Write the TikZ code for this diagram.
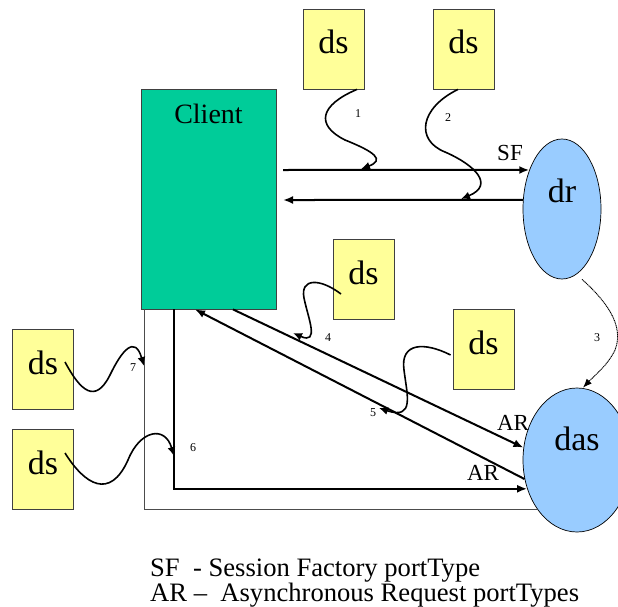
\documentclass[tikz,border=0pt]{standalone}
\usepackage{fontspec}
\setmainfont{Liberation Serif}
\usetikzlibrary{arrows.meta,shapes.geometric}
\definecolor{dsyellow}{HTML}{FFFF99}
\definecolor{clientgreen}{HTML}{00CC99}
\definecolor{portblue}{HTML}{99CCFF}

\begin{document}
\begin{tikzpicture}[x=1pt,y=-1pt]
\tikzstyle{dsbox} = [draw=black!75,fill=dsyellow,line width=0.8pt,inner sep=0pt,minimum width=61pt,text height=45pt,text depth=35pt,font=\fontsize{34}{34}\selectfont]
\tikzstyle{clientbox} = [draw=black!75,fill=clientgreen,line width=0.8pt,inner sep=0pt,minimum width=135pt,text height=35pt,text depth=185pt,font=\fontsize{28}{28}\selectfont]
\tikzstyle{porttype} = [ellipse,draw,fill=portblue,line width=0.7pt,inner sep=0pt,text height=23pt,font=\fontsize{34}{34}\selectfont]
\tikzstyle{num} = [font=\fontsize{12}{12}\selectfont,inner sep=1pt]
\tikzstyle{ptlabel} = [font=\fontsize{23}{23}\selectfont,inner sep=1pt]
\tikzstyle{legend} = [font=\fontsize{26.6}{26.6}\selectfont,inner sep=0pt,anchor=base west]
\tikzstyle{call} = [line width=2pt,arrows={-Latex[length=10pt,width=8pt]}]
\tikzstyle{wiggle} = [line width=1.6pt,arrows={-Latex[length=9pt,width=8pt]}]
\useasboundingbox (0,0) rectangle (618,607);

\node[clientbox] (client) at (208.5,199) {Client};
\node[dsbox] (ds1) at (333.5,49) {ds};
\node[dsbox] (ds2) at (463.5,49) {ds};
\node[dsbox] (ds3) at (363.5,279) {ds};
\node[dsbox] (ds4) at (483.5,349) {ds};
\node[dsbox] (ds5) at (43,369) {ds};
\node[dsbox] (ds6) at (43,469) {ds};
\node[porttype,minimum width=78pt,minimum height=140pt,text depth=37pt] (dr) at (562,209) {dr};
\node[porttype,minimum width=108pt,minimum height=144pt,text depth=43pt] (das) at (577,460) {das};

\coordinate (sfout) at (283,170);
\coordinate (sfback) at (283,200);
\coordinate (hit1) at (361,169);
\coordinate (hit2) at (461,199);
\coordinate (hit4) at (293,333);
\coordinate (hit5) at (379,408);
\coordinate (hit6) at (174,456);
\coordinate (hit7) at (144,366);

\draw[call] (sfout) -- (dr.130);
\draw[call] (dr.167) -- (sfback);
\draw[call] ([xshift=24.5pt]client.south) -- (das.167);
\draw[call] (das.200) -- ([xshift=-13.5pt]client.south);
\draw[call] ([xshift=-34.5pt]client.south) |- (das.210);
\draw[black!70,line width=0.8pt] ([xshift=-64.5pt]client.south) |- (das.231);
\draw[line width=0.9pt,dash pattern=on 1.2pt off 0.6pt,arrows={-Latex[length=9pt,width=7pt]}] ([xshift=20pt]dr.south) .. controls (605,300) and (625,325) .. (615,350) .. controls (608,365) and (595,375) .. ([xshift=6pt]das.north);

\draw[wiggle] ([xshift=23.5pt]ds1.south) .. controls (320,105) and (315,125) .. (345,140) .. controls (375,152) and (385,160) .. (hit1);
\draw[wiggle] ([xshift=-5.5pt]ds2.south) .. controls (420,108) and (415,140) .. (445,152) .. controls (475,165) and (495,185) .. (hit2);
\draw[wiggle] ([xshift=-22.5pt,yshift=-15pt]ds3.center) .. controls (320,278) and (300,278) .. (304,298) .. controls (308,318) and (320,345) .. (hit4);
\draw[wiggle] ([xshift=-2pt,yshift=-6pt]ds4.west) .. controls (425,342) and (400,342) .. (404,370) .. controls (407,395) and (415,420) .. (hit5);
\draw[wiggle] ([xshift=22pt,yshift=16pt]ds6.center) .. controls (85,485) and (110,500) .. (128,460) .. controls (140,430) and (165,425) .. (hit6);
\draw[wiggle] ([xshift=22pt,yshift=7pt]ds5.center) .. controls (80,390) and (95,405) .. (110,375) .. controls (122,350) and (135,335) .. (hit7);

\node[num] (n1) at (358,114) {1};
\node[num] (n2) at (448,118) {2};
\node[num] (n3) at (597,338) {3};
\node[num] (n4) at (328,338) {4};
\node[num] (n5) at (373,413) {5};
\node[num] (n6) at (193,448) {6};
\node[num] (n7) at (133,368) {7};
\node[ptlabel] (lblSF) at (510,153) {SF};
\node[ptlabel] (lblARa) at (513,423) {AR};
\node[ptlabel] (lblARb) at (483,473) {AR};

\node[legend] (legSF) at (150,576) {SF\ \ - Session Factory portType};
\node[legend] (legAR) at (150,601) {AR --\ \ Asynchronous Request portTypes};
\end{tikzpicture}
\end{document}
